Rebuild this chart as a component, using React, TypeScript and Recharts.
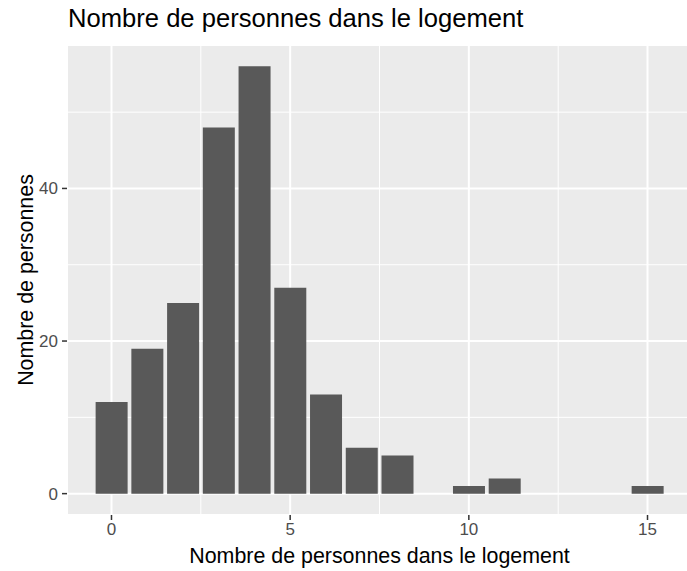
import { BarChart, Bar, XAxis, YAxis, CartesianGrid, Label } from 'recharts';

const personnes = [0, 1, 2, 3, 4, 5, 6, 7, 8, 10, 11, 15];
const effectifs = [12, 19, 25, 48, 56, 27, 13, 6, 5, 1, 2, 1];

const xTicks = [0, 5, 10, 15];
const xMinor = [2.5, 7.5, 12.5];
const yTicks = [0, 20, 40];
const yMinor = [10, 30, 50];

const data = personnes.map((x, i) => ({ x, n: effectifs[i] }));

const FONT = '"Liberation Sans", Arial, Helvetica, sans-serif';
const TITLE = 'Nombre de personnes dans le logement';

export default function App() {
  return (
    <div
      style={{
        position: 'absolute',
        left: 0,
        top: 0,
        width: 687,
        height: 571,
        overflow: 'hidden',
        background: '#fff',
        fontFamily: FONT,
      }}
    >
      <div
        style={{
          position: 'absolute',
          left: 68,
          top: 6,
          fontSize: 25.6,
          lineHeight: 1,
          color: '#000',
          whiteSpace: 'nowrap',
        }}
      >
        {TITLE}
      </div>
      <div style={{ position: 'absolute', left: 0, top: 0 }}>
        <BarChart width={692} height={571} data={data} margin={{ top: 45, right: 0, bottom: 0, left: 0 }}>
          <CartesianGrid fill="#EBEBEB" stroke="#FFFFFF" strokeWidth={2} />
          {/* minor grid, drawn under the bars */}
          <CartesianGrid
            fill="none"
            stroke="#FFFFFF"
            strokeWidth={1}
            horizontalValues={yMinor}
            verticalValues={xMinor}
          />
          <XAxis
            dataKey="x"
            type="number"
            domain={[-1.245, 16.245]}
            ticks={xTicks}
            allowDataOverflow
            axisLine={false}
            tickSize={5}
            tickMargin={3}
            tickLine={{ stroke: '#333333', strokeWidth: 1.5 }}
            tick={{ fill: '#4D4D4D', fontSize: 17, fontFamily: FONT }}
            height={56}
          >
            <Label
              value={TITLE}
              position="insideBottom"
              offset={8}
              style={{ fill: '#000', fontSize: 21.4, fontFamily: FONT }}
            />
          </XAxis>
          <YAxis
            type="number"
            domain={[-2.8, 58.8]}
            ticks={yTicks}
            allowDataOverflow
            axisLine={false}
            tickSize={5}
            tickMargin={4}
            tickLine={{ stroke: '#333333', strokeWidth: 1.5 }}
            tick={{ fill: '#4D4D4D', fontSize: 17, fontFamily: FONT }}
            width={67}
          >
            <Label
              value="Nombre de personnes"
              angle={-90}
              position="insideLeft"
              offset={25}
              style={{ fill: '#000', fontSize: 21.4, fontFamily: FONT, textAnchor: 'middle' }}
            />
          </YAxis>
          <Bar dataKey="n" fill="#595959" barSize={32} isAnimationActive={false} />
        </BarChart>
      </div>
    </div>
  );
}
